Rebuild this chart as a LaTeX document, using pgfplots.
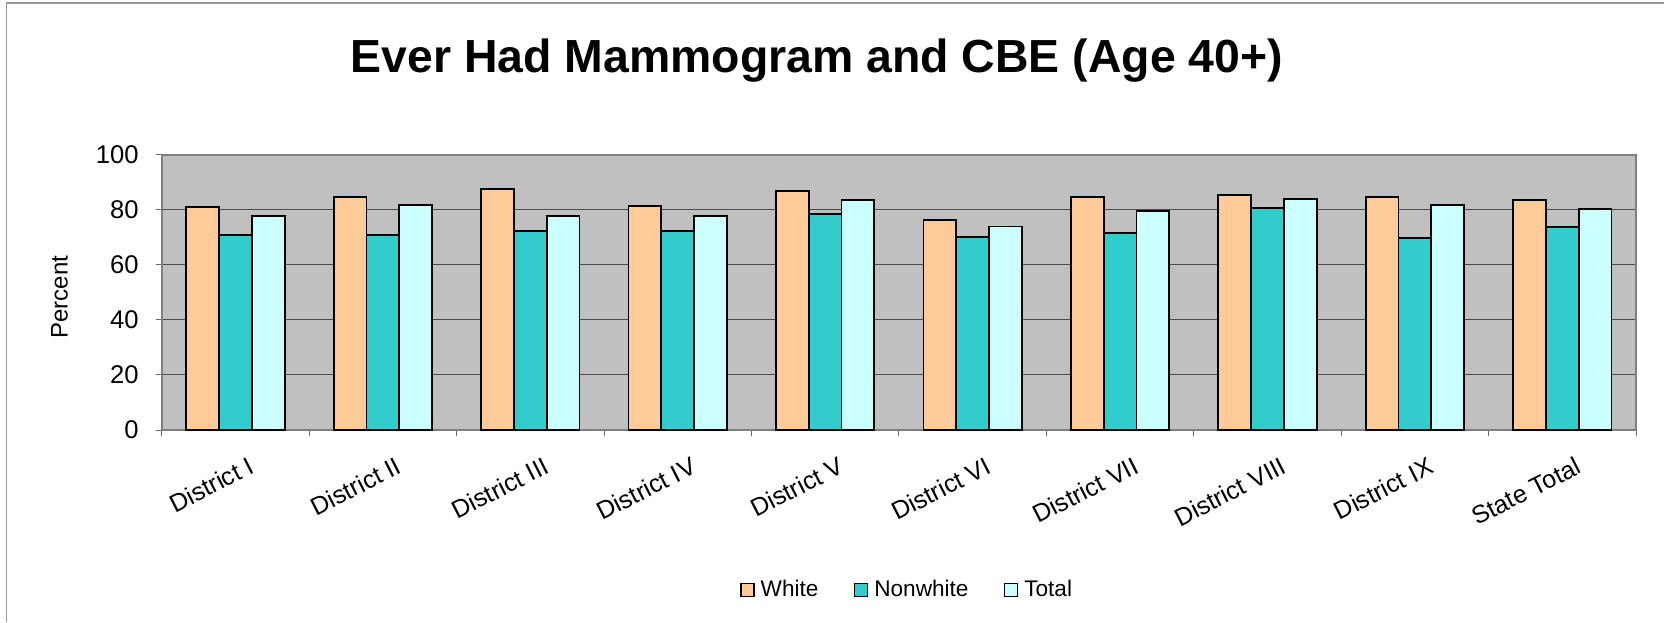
\documentclass[border=0pt]{standalone}
\usepackage{pgfplots}
\pgfplotsset{compat=1.18}
\usepackage{fontspec}
\setmainfont{Liberation Sans}
\definecolor{cwhite}{HTML}{FFCC99}
\definecolor{cnon}{HTML}{33CCCC}
\definecolor{ctot}{HTML}{CCFFFF}
\definecolor{plotbg}{HTML}{C0C0C0}
\pgfplotsset{mylegend/.style={legend image code/.code={\draw[##1,line width=0.9pt] (0pt,-3.25pt) rectangle (6.5pt,3.25pt);}}}
\begin{document}
\begin{tikzpicture}
\useasboundingbox (0,0) rectangle (832pt,311pt);
\fill[white] (0,0) rectangle (832pt,311pt);
\draw[color=black!40, line width=0.7pt] (3.25pt,0) -- (3.25pt,309.4pt) -- (832pt,309.4pt);
\node[font=\bfseries\fontsize{23.2}{27}\selectfont] at (408.5pt,280.7pt) {Ever Had Mammogram and CBE (Age 40+)};
\node[rotate=90, font=\fontsize{12}{14}\selectfont] at (29.7pt,162.5pt) {Percent};
\begin{axis}[
  at={(80.85pt,96pt)}, anchor=south west,
  scale only axis, width=737.2pt, height=137.65pt,
  xmin=-0.5, xmax=9.5, ymin=0, ymax=100,
  ytick={0,20,...,100},
  xtick={0,...,9},
  xticklabels={District I, District II, District III, District IV, District V, District VI, District VII, District VIII, District IX, State Total},
  minor xtick={-0.5,0.5,...,9.5},
  major x tick style={draw=none},
  tick align=outside,
  tick pos=left,
  major tick length=3pt, minor tick length=3pt,
  tick style={color=black!60, line width=0.5pt},
  ymajorgrids,
  y grid style={color=black!70, line width=0.5pt},
  axis background/.style={fill=plotbg},
  axis line style={color=black!50, line width=0.8pt},
  ybar=0pt, bar width=16.4pt,
  /pgf/number format/assume math mode=true,
  yticklabel style={font=\fontsize{12.8}{14}\selectfont, anchor=east, inner sep=0pt, xshift=-8.3pt},
  xticklabel style={font=\fontsize{12.5}{14}\selectfont, rotate=27, anchor=north east, inner sep=0pt, yshift=-11.5pt, xshift=1pt},
  legend style={at={(0.5048,-0.5812)}, anchor=center, draw=none, fill=none,
    legend columns=3, font=\fontsize{11.3}{13}\selectfont, nodes={inner sep=0pt},
    /tikz/every odd column/.append style={column sep=3pt},
    /tikz/every even column/.append style={column sep=17.5pt}},
  legend cell align=left,
]
\addplot[fill=cwhite, draw=black, line width=0.9pt, mylegend] coordinates {(0,81.0) (1,84.5) (2,87.5) (3,81.4) (4,86.8) (5,76.3) (6,84.6) (7,85.5) (8,84.5) (9,83.5)};
\addplot[fill=cnon, draw=black, line width=0.9pt, mylegend] coordinates {(0,70.7) (1,70.7) (2,72.3) (3,72.3) (4,78.5) (5,70.2) (6,71.7) (7,80.5) (8,69.7) (9,73.6)};
\addplot[fill=ctot, draw=black, line width=0.9pt, mylegend] coordinates {(0,77.8) (1,81.8) (2,77.8) (3,77.8) (4,83.5) (5,73.9) (6,79.5) (7,84.0) (8,81.8) (9,80.2)};
\legend{White, Nonwhite, Total}
\end{axis}
\end{tikzpicture}
\end{document}
